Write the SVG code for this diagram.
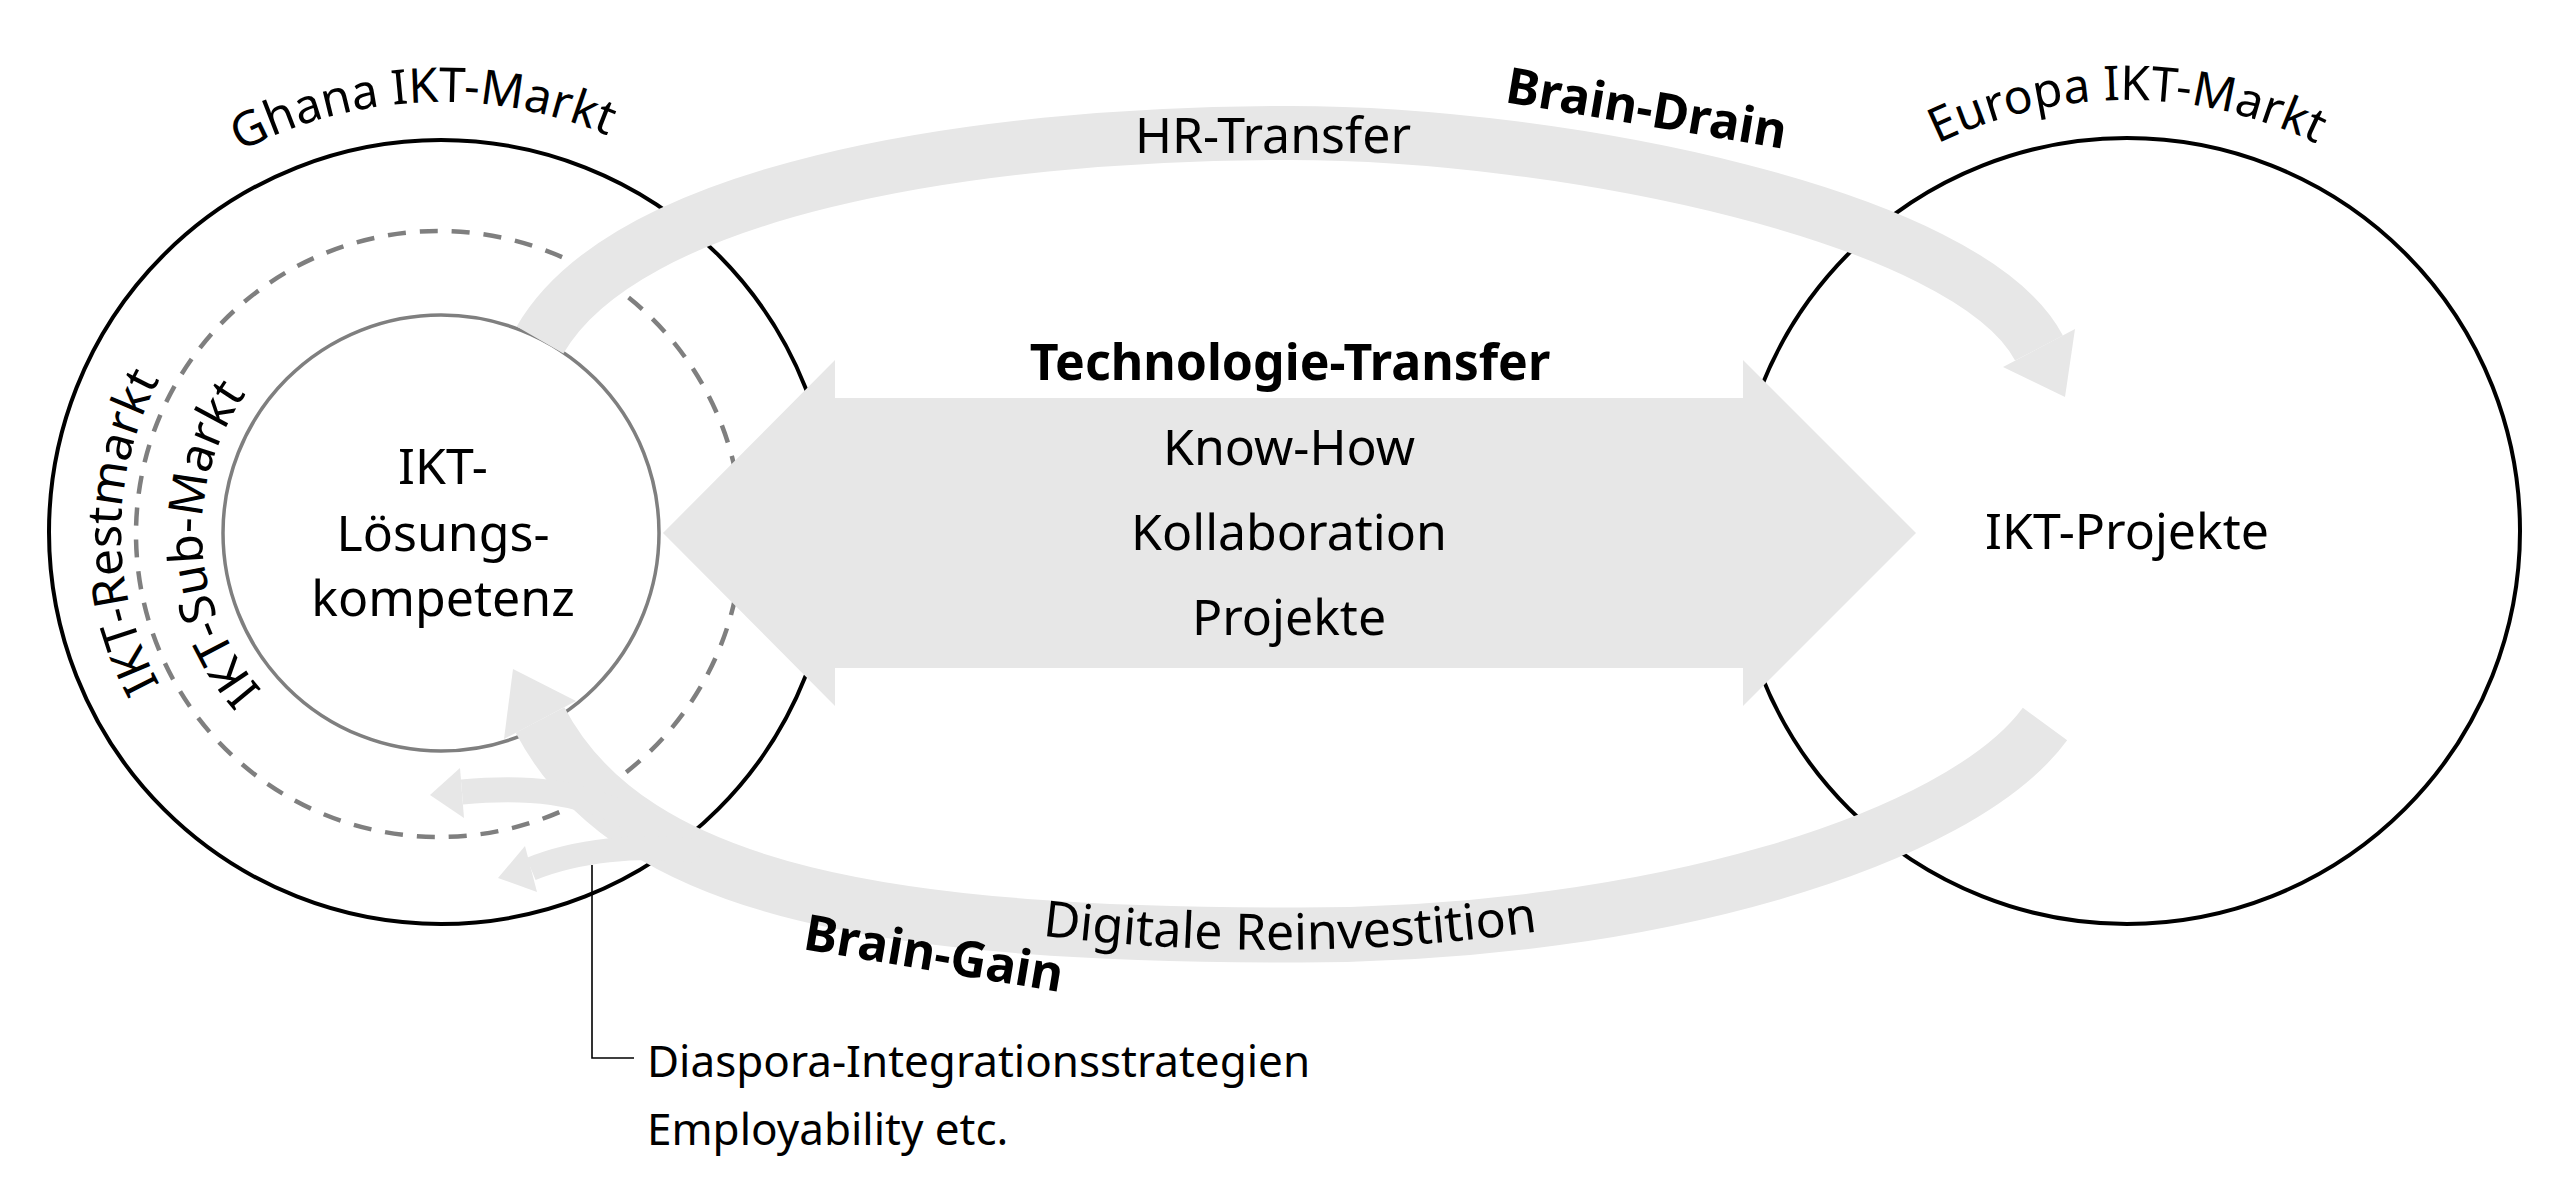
<svg xmlns="http://www.w3.org/2000/svg" width="2560" height="1179" viewBox="0 0 2560 1179">
<style>
text { font-family: "Noto Sans", "Open Sans", sans-serif; font-size: 50px; fill: #000; }
.b { font-weight: bold; }
.m { text-anchor: middle; }
.arc { font-size: 48px; }
.ring { fill: none; stroke: #000; stroke-width: 4; }
.gray { fill: none; stroke: #7f7f7f; stroke-width: 3.5; }
.dash { fill: none; stroke: #7f7f7f; stroke-width: 4.5; stroke-dasharray: 18 14; }
.band { fill: none; stroke: #e7e7e7; stroke-linecap: butt; }
.fg { fill: #e7e7e7; stroke: none; }
.call { fill: none; stroke: #000; stroke-width: 1.6; }
</style>
<defs>
<path id="pGhana" d="M 11,532 A 430 430 0 0 1 871,532"/>
<path id="pEuropa" d="M 1695,532 A 432 432 0 0 1 2559,532"/>
<path id="pRest" d="M 441,852 A 320 320 0 0 1 441,212"/>
<path id="pSub" d="M 441,771 A 239 239 0 0 1 441,293"/>
<path id="pDig" d="M 1000,930 Q 1290,972 1580,925"/>
</defs>
<rect width="2560" height="1179" fill="#fff"/>

<g id="ghana-markt">
<circle class="ring" cx="441" cy="532" r="392"/>
<text class="m arc"><textPath href="#pGhana" startOffset="48.6%">Ghana IKT-Markt</textPath></text>
</g>
<g id="ikt-restmarkt">
<text class="m arc"><textPath href="#pRest" startOffset="50%">IKT-Restmarkt</textPath></text>
</g>
<g id="ikt-sub-markt">
<circle class="dash" cx="439" cy="534" r="303"/>
<text class="m arc"><textPath href="#pSub" startOffset="48.3%">IKT-Sub-Markt</textPath></text>
</g>
<g id="ikt-loesungskompetenz">
<circle class="gray" cx="441" cy="533" r="218"/>
</g>
<g id="europa-markt">
<circle class="ring" cx="2127" cy="531" r="393"/>
<text class="m arc"><textPath href="#pEuropa" startOffset="50%">Europa IKT-Markt</textPath></text>
</g>

<g id="connectors">
<!-- Technologie-Transfer double arrow -->
<polygon class="fg" points="663,533 835,360 835,398 1743,398 1743,360 1916,533 1743,706 1743,668 835,668 835,706"/>
<!-- HR-Transfer / Brain-Drain -->
<path class="band" stroke-width="54" d="M 540,340 C 625,193 960,133 1290,133 C 1560,133 1969,215 2039,348"/>
<polygon class="fg" points="2075,329 2065,397 2003,367"/>
<!-- Digitale Reinvestition / Brain-Gain -->
<path class="band" stroke-width="55" d="M 2045,724 C 1960,840 1650,935 1300,935 C 900,935 633,897 540,720"/>
<polygon class="fg" points="576,701 513,669 504,739"/>
<!-- branches -->
<path class="band" stroke-width="25" d="M 625,815 C 580,792 530,786 462,792"/>
<polygon class="fg" points="460,768 430,795 464,818"/>
<path class="band" stroke-width="24" d="M 700,852 C 640,842 572,852 531,869"/>
<polygon class="fg" points="525,846 498,878 537,892"/>
<!-- callout line -->
<polyline class="call" points="592,865 592,1058 634,1058"/>
</g>

<g id="labels">
<text class="m" x="443" y="484">IKT-</text>
<text class="m" x="443" y="551">Lösungs-</text>
<text class="m" x="443" y="616">kompetenz</text>
<text class="m" x="2127" y="549">IKT-Projekte</text>
<text class="m b" x="1290" y="380">Technologie-Transfer</text>
<text class="m" x="1289" y="465">Know-How</text>
<text class="m" x="1289" y="550">Kollaboration</text>
<text class="m" x="1289" y="635">Projekte</text>
<text class="m" x="1273" y="153">HR-Transfer</text>
<text class="b" transform="translate(1504,102) rotate(9.5)">Brain-Drain</text>
<text class="b" transform="translate(802,949) rotate(9.5)">Brain-Gain</text>
<text class="m"><textPath href="#pDig" startOffset="50%">Digitale Reinvestition</textPath></text>
<text x="647" y="1077" style="font-size:44px">Diaspora-Integrationsstrategien</text>
<text x="647" y="1145" style="font-size:44px">Employability etc.</text>
</g>
</svg>
